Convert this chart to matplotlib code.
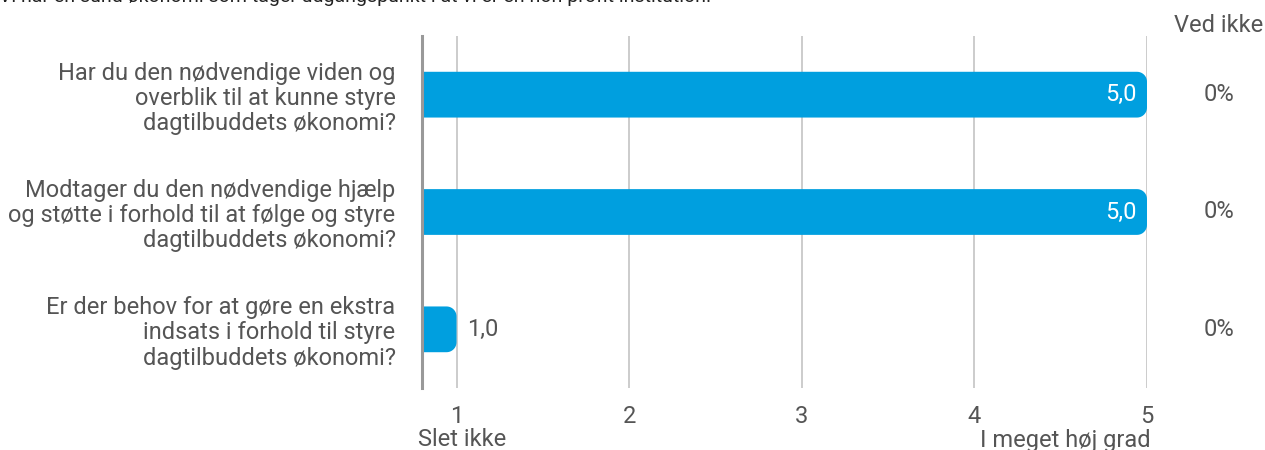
import numpy as np
import matplotlib
matplotlib.use("Agg")
import matplotlib.pyplot as plt
from matplotlib.patches import PathPatch
from matplotlib.path import Path

plt.rcParams['font.family'] = ['Roboto', 'DejaVu Sans']

# Data
questions = [
    "Har du den nødvendige viden og\noverblik til at kunne styre\ndagtilbuddets økonomi?",
    "Modtager du den nødvendige hjælp\nog støtte i forhold til at følge og styre\ndagtilbuddets økonomi?",
    "Er der behov for at gøre en ekstra\nindsats i forhold til styre\ndagtilbuddets økonomi?",
]
means = [5.0, 5.0, 1.0]
dont_know = ["0%", "0%", "0%"]
ticks = [1, 2, 3, 4, 5]
title = "Vi har en sund økonomi som tager udgangspunkt i at vi er en non profit institution."

bar_color = "#009FDF"
text_color = "#555555"
fs = 17
x0 = 0.8


def rounded_bar(x_start, x_end, yc, h, rx, ry):
    # square left end, rounded right end
    y_top, y_bot = yc - h / 2, yc + h / 2
    t = np.linspace(-np.pi / 2, 0, 12)
    c1 = np.c_[x_end - rx + rx * np.cos(t), y_top + ry + ry * np.sin(t)]
    t2 = np.linspace(0, np.pi / 2, 12)
    c2 = np.c_[x_end - rx + rx * np.cos(t2), y_bot - ry + ry * np.sin(t2)]
    pts = np.vstack([[x_start, y_top], c1, c2, [x_start, y_bot], [x_start, y_top]])
    return Path(pts, closed=True)


fig = plt.figure(figsize=(12.65, 4.5), dpi=100)
ax = fig.add_axes([422 / 1265, 1 - 388 / 450, (1147 - 422) / 1265, 352 / 450])
ax.set_xlim(x0, 5.0)
ax.set_ylim(2.5, -0.5)

y = np.arange(len(questions))
bar_h = 0.39

for t in ticks:
    ax.axvline(t, color="#c8c8c8", lw=1.3, zorder=0)

px_x = 1265 * ax.get_position().width / (5.0 - x0)
px_y = 450 * ax.get_position().height / 3.0
rx, ry = 10 / px_x, 10 / px_y

for yi, v in zip(y, means):
    ax.add_patch(PathPatch(rounded_bar(x0, v, yi, bar_h, rx, ry),
                           fc=bar_color, ec="none", zorder=2))
    lbl = f"{v:.1f}".replace(".", ",")
    if v - x0 > 0.5:
        ax.text(v - 10 / px_x, yi, lbl, ha="right", va="center",
                color="white", fontsize=fs, zorder=3)
    else:
        ax.text(v + 11 / px_x, yi, lbl, ha="left", va="center",
                color=text_color, fontsize=fs, zorder=3)

# "Ved ikke" column
x_vi = x0 + (1219 - 422) / px_x
for yi, s in zip(y, dont_know):
    ax.text(x_vi, yi, s, ha="center", va="center", color=text_color,
            fontsize=fs, clip_on=False)
ax.text(x_vi, -0.5 - 11 / px_y, "Ved ikke", ha="center", va="center",
        color=text_color, fontsize=fs, clip_on=False)

for s in ["top", "right", "bottom"]:
    ax.spines[s].set_visible(False)
ax.spines["left"].set_color("#999999")
ax.spines["left"].set_linewidth(2.2)

ax.set_yticks(y)
ax.set_yticklabels(questions, fontsize=fs, color=text_color, linespacing=1.12)
ax.set_xticks(ticks)
ax.set_xticklabels([str(t) for t in ticks], fontsize=fs, color=text_color)
ax.tick_params(axis="both", length=0)
ax.tick_params(axis="y", pad=19)
ax.tick_params(axis="x", pad=12)

ax.text(1.03, 2.5 + 52 / px_y, "Slet ikke", ha="center", va="center",
        color=text_color, fontsize=fs, clip_on=False)
ax.text(5.02, 2.5 + 52 / px_y, "I meget høj grad", ha="right", va="center",
        color=text_color, fontsize=fs, clip_on=False)

fig.text(-0.001, 1 - 2 / 450, title, ha="left", va="baseline", color="#222222", fontsize=14)

fig.savefig("out.png", dpi=100)
